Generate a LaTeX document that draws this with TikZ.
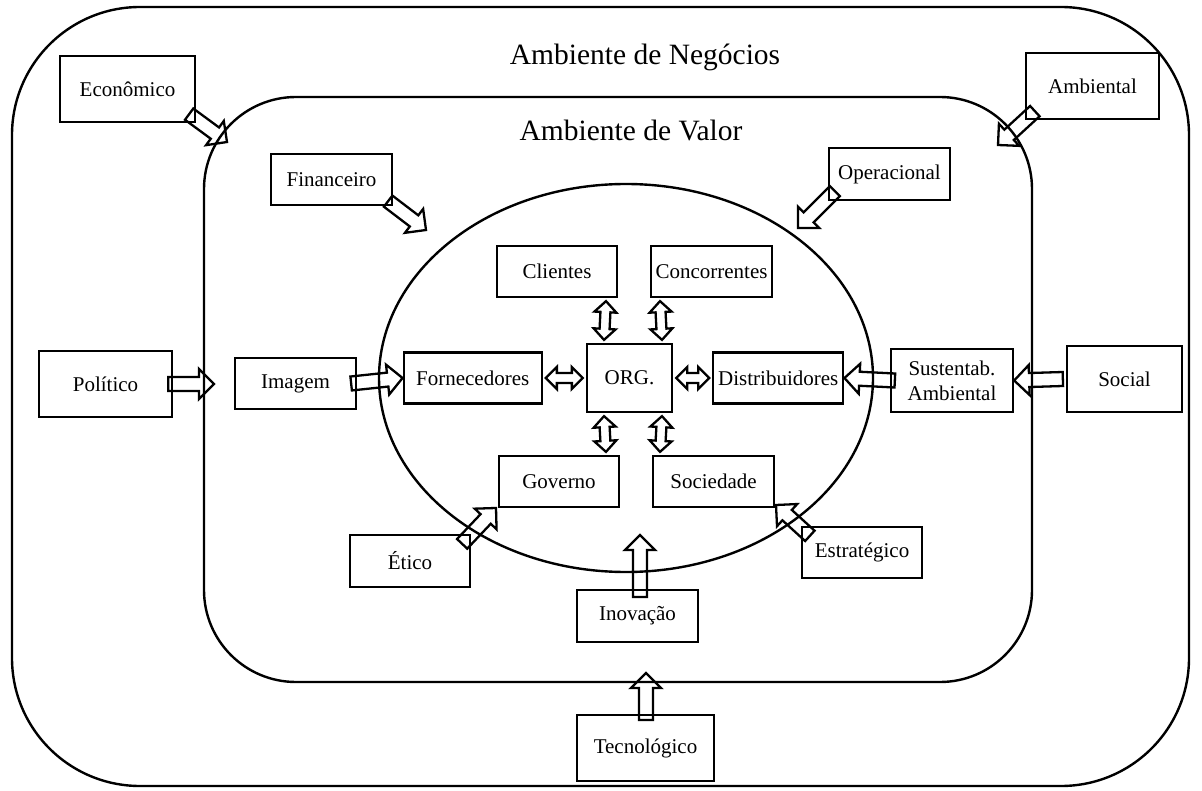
\documentclass[tikz,border=0pt]{standalone}
\usepackage{fontspec}
\setmainfont{Liberation Serif}
\usetikzlibrary{calc,positioning}

% outlined block arrow from #1 to #2
\newcommand{\blockarrow}[2]{%
  \draw[blockline] let \p1=(#1), \p2=(#2),
    \n1={atan2(\y2-\y1,\x2-\x1)}, \n2={veclen(\x2-\x1,\y2-\y1)} in
    ($(\p1)+(\n1+90:7pt)$) -- ($(\p1)+(\n1:{\n2-15pt})+(\n1+90:7pt)$)
    -- ($(\p1)+(\n1:{\n2-15pt})+(\n1+90:15pt)$) -- (\p2)
    -- ($(\p1)+(\n1:{\n2-15pt})+(\n1-90:15pt)$)
    -- ($(\p1)+(\n1:{\n2-15pt})+(\n1-90:7pt)$)
    -- ($(\p1)+(\n1-90:7pt)$) -- cycle;}
% outlined double arrow between #1 and #2
\newcommand{\dblarrow}[2]{%
  \draw[blockline] let \p1=(#1), \p2=(#2),
    \n1={atan2(\y2-\y1,\x2-\x1)}, \n2={veclen(\x2-\x1,\y2-\y1)} in
    ($(\p1)+(\n1:3pt)$)
    -- ($(\p1)+(\n1:14pt)+(\n1+90:11pt)$) -- ($(\p1)+(\n1:14pt)+(\n1+90:5pt)$)
    -- ($(\p1)+(\n1:{\n2-14pt})+(\n1+90:5pt)$) -- ($(\p1)+(\n1:{\n2-14pt})+(\n1+90:11pt)$)
    -- ($(\p1)+(\n1:{\n2-3pt})$)
    -- ($(\p1)+(\n1:{\n2-14pt})+(\n1-90:11pt)$) -- ($(\p1)+(\n1:{\n2-14pt})+(\n1-90:5pt)$)
    -- ($(\p1)+(\n1:14pt)+(\n1-90:5pt)$) -- ($(\p1)+(\n1:14pt)+(\n1-90:11pt)$) -- cycle;}

\begin{document}
\begin{tikzpicture}
  [x=1pt, y=-1pt, line join=miter,
  factor/.style={rectangle, draw, line width=2.3pt, inner sep=2pt, align=center,
    font=\fontsize{21}{25}\selectfont},
  ambiente/.style={draw, line width=2.4pt},
  titulo/.style={font=\fontsize{29.5}{33}\selectfont},
  blockline/.style={line width=2.3pt}]

  \useasboundingbox (0,0) rectangle (1202,791);

  \draw [ambiente, rounded corners=128pt] (12,7) rectangle (1189,786);
  \draw [ambiente, rounded corners=92pt] (204,97) rectangle (1032,682);
  \draw [ambiente] (626,378) ellipse [x radius=247pt, y radius=194pt];

  \node [titulo] (negocios) at (645,57) {Ambiente de Negócios};
  \node [titulo] (valor) at (631,130) {Ambiente de Valor};

  % outer factors
  \node [factor, minimum width=135pt, minimum height=66pt] (econ) at (127.5,89) {Econômico};
  \node [factor, minimum width=133pt, minimum height=66pt] (ambient) at (1092.5,86) {Ambiental};
  \node [factor, minimum width=133pt, minimum height=66pt] (polit) at (105.5,384) {Político};
  \node [factor, minimum width=115pt, minimum height=66pt] (social) at (1124.5,379) {Social};
  \node [factor, minimum width=137pt, minimum height=66pt] (tecno) at (645.5,748) {Tecnológico};

  % value factors
  \node [factor, minimum width=121pt, minimum height=51pt] (finan) at (331.5,179.5) {Financeiro};
  \node [factor, minimum width=121pt, minimum height=52pt] (oper) at (889.5,174) {Operacional};
  \node [factor, minimum width=121pt, minimum height=51pt] (imagem) at (295.5,383.5) {Imagem};
  \node [factor, minimum width=122pt, minimum height=63pt] (sust) at (952,380.5) {Sustentab.\\Ambiental};
  \node [factor, minimum width=120pt, minimum height=52pt] (etico) at (410,561) {Ético};
  \node [factor, minimum width=120pt, minimum height=51pt] (estrat) at (862,552.5) {Estratégico};
  \node [factor, minimum width=121pt, minimum height=52pt] (inov) at (637.5,616) {Inovação};

  % organisation and partners
  \node [factor, minimum width=85pt, minimum height=68pt] (org) at (629.5,378) {ORG.};
  \node [factor, minimum width=138pt, minimum height=51pt, left=43pt of org] (fornec) {Fornecedores};
  \node [factor, minimum width=130pt, minimum height=51pt, right=39pt of org] (distrib) {Distribuidores};
  \node [factor, minimum width=120pt, minimum height=51pt] (client) at (557,271.5) {Clientes};
  \node [factor, minimum width=121pt, minimum height=51pt] (concor) at (711.5,271.5) {Concorrentes};
  \node [factor, minimum width=120pt, minimum height=51pt] (gov) at (559,481.5) {Governo};
  \node [factor, minimum width=121pt, minimum height=51pt] (soc) at (713.5,481.5) {Sociedade};

  \coordinate (econT) at ($(econ.south east)+(-7,-9)$);
  \coordinate (econP) at (227,142);
  \coordinate (finanT) at ($(finan.south east)+(-5,-5)$);
  \coordinate (finanP) at (426,230);
  \coordinate (ambientT) at ($(ambient.south west)+(10,-9)$);
  \coordinate (ambientP) at (998,145);
  \coordinate (operT) at ($(oper.south west)+(7,-10)$);
  \coordinate (operP) at (798,228);
  \coordinate (politT) at ($(polit.east)+(-5,0)$);
  \coordinate (politP) at (214,384);
  \coordinate (imagemT) at ($(imagem.east)+(-6,0)$);
  \coordinate (sustT) at ($(sust.west)+(5,0)$);
  \coordinate (socialT) at ($(social.west)+(-3,0)$);
  \coordinate (eticoT) at ($(etico.north east)+(-9,10)$);
  \coordinate (eticoP) at (496,508);
  \coordinate (estratT) at ($(estrat.north west)+(9,10)$);
  \coordinate (estratP) at (776,505);
  \coordinate (inovT) at (640,597);
  \coordinate (inovP) at (640,535);
  \coordinate (tecnoT) at (646,720);
  \coordinate (tecnoP) at (646,673);
  \coordinate (clientB) at ($(client.south east)+(-12,0)$);
  \coordinate (concorB) at ($(concor.south west)+(10,0)$);
  \coordinate (govT) at ($(gov.north east)+(-14,0)$);
  \coordinate (socT) at ($(soc.north west)+(8,0)$);
  \coordinate (orgNW) at ($(org.north west)+(18,0)$);
  \coordinate (orgNE) at ($(org.north east)+(-11,0)$);
  \coordinate (orgSW) at ($(org.south west)+(18,0)$);
  \coordinate (orgSE) at ($(org.south east)+(-11,0)$);

  \blockarrow{econT}{econP}
  \blockarrow{finanT}{finanP}
  \blockarrow{ambientT}{ambientP}
  \blockarrow{operT}{operP}
  \blockarrow{politT}{politP}
  \blockarrow{imagemT}{fornec.west}
  \blockarrow{sustT}{distrib.east}
  \blockarrow{socialT}{sust.east}
  \blockarrow{eticoT}{eticoP}
  \blockarrow{estratT}{estratP}
  \blockarrow{inovT}{inovP}
  \blockarrow{tecnoT}{tecnoP}

  \dblarrow{fornec.east}{org.west}
  \dblarrow{org.east}{distrib.west}
  \dblarrow{clientB}{orgNW}
  \dblarrow{concorB}{orgNE}
  \dblarrow{orgSW}{govT}
  \dblarrow{orgSE}{socT}
\end{tikzpicture}
\end{document}
